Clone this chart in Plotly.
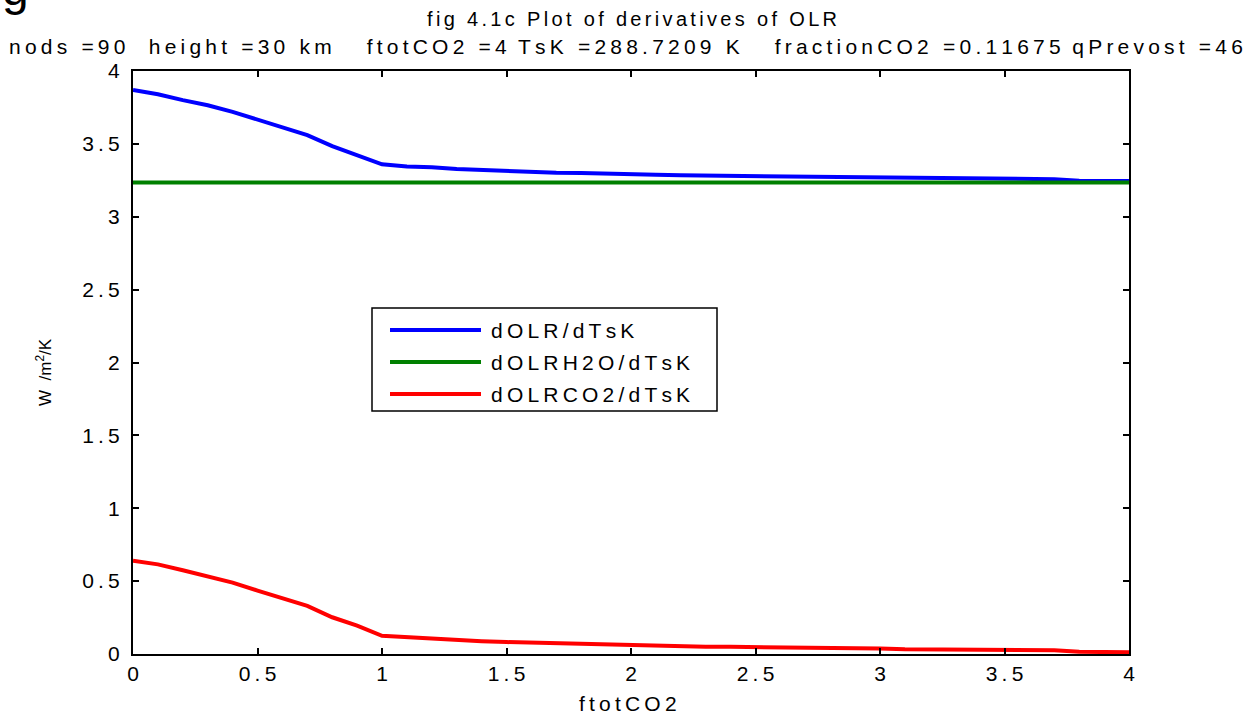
import plotly.graph_objects as go

# ftotCO2 sample points
ftot = [round(0.1 * i, 1) for i in range(41)]

# d OLR / d TsK (total)
dolr = [3.870, 3.840, 3.800, 3.765, 3.720, 3.665, 3.615, 3.560, 3.485, 3.425,
        3.360, 3.345, 3.340, 3.327, 3.320, 3.313, 3.310, 3.302, 3.300, 3.294,
        3.290, 3.288, 3.284, 3.282, 3.281, 3.280, 3.274, 3.273, 3.272, 3.271,
        3.270, 3.264, 3.262, 3.262, 3.261, 3.260, 3.259, 3.258, 3.247, 3.245,
        3.245]

# d OLR(H2O) / d TsK
dolr_h2o = [3.235] * 41

# d OLR(CO2) / d TsK
dolr_co2 = [0.640, 0.615, 0.575, 0.535, 0.490, 0.435, 0.385, 0.330, 0.252, 0.195,
            0.125, 0.115, 0.108, 0.095, 0.088, 0.082, 0.078, 0.070, 0.068, 0.062,
            0.058, 0.056, 0.052, 0.050, 0.049, 0.048, 0.042, 0.041, 0.040, 0.039,
            0.038, 0.032, 0.030, 0.030, 0.029, 0.028, 0.027, 0.026, 0.015, 0.012,
            0.012]

tick_vals_x = [0, 0.5, 1, 1.5, 2, 2.5, 3, 3.5, 4]
tick_vals_y = [0, 0.5, 1, 1.5, 2, 2.5, 3, 3.5, 4]

series = [
    ("dOLR/dTsK", dolr, "#0000ff"),
    ("dOLRH2O/dTsK", dolr_h2o, "#008000"),
    ("dOLRCO2/dTsK", dolr_co2, "#ff0000"),
]

FONT = "Liberation Sans, Arial, sans-serif"
SIX = "\u2006"   # six-per-em space
THIN = "\u2009"  # thin space


def spaced(s, gap=THIN):
    """Spread the characters out the way the old export renders them."""
    return gap.join(s)


fig = go.Figure()
for name, vals, col in series:
    fig.add_trace(go.Scatter(x=ftot, y=vals, mode="lines", name=name,
                             line=dict(color=col, width=4), showlegend=False))

axis_common = dict(
    showline=True, linecolor="black", linewidth=2, mirror="ticks",
    ticks="inside", ticklen=6, tickwidth=1.5, tickcolor="black",
    showgrid=False, zeroline=False,
    tickfont=dict(family=FONT, size=21, color="black"),
)

fig.update_xaxes(range=[0, 4], tickvals=tick_vals_x,
                 ticktext=[spaced(f"{v:g}") for v in tick_vals_x], **axis_common)
fig.update_yaxes(range=[0, 4], tickvals=tick_vals_y, ticklabelstandoff=7,
                 ticktext=[spaced(f"{v:g}") for v in tick_vals_y], **axis_common)


def px_x(p):
    return (p - 133) / 996


def px_y(p):
    return (654 - p) / 583


parts = ["nods =90", "height =30 km", "ftotCO2 =4", "TsK =288.7209 K",
         "fractionCO2 =0.11675", "qPrevost =46"]
word_gaps = [4, 6, 2, 6, 2]
subtitle = spaced(parts[0])
for gap, part in zip(word_gaps, parts[1:]):
    subtitle += " " * gap + spaced(part)

annotations = [
    dict(text=spaced("fig 4.1c Plot of derivatives of OLR", SIX),
         x=px_x(632), y=px_y(19), xref="paper", yref="paper",
         showarrow=False, xanchor="center", yanchor="middle",
         font=dict(family=FONT, size=20, color="black")),
    dict(text=subtitle,
         x=px_x(626), y=px_y(46), xref="paper", yref="paper",
         showarrow=False, xanchor="center", yanchor="middle",
         font=dict(family=FONT, size=21, color="black")),
    dict(text=spaced("ftotCO2"),
         x=px_x(628), y=px_y(703), xref="paper", yref="paper",
         showarrow=False, xanchor="center", yanchor="middle",
         font=dict(family=FONT, size=21, color="black")),
    dict(text="W  /m<sup>2</sup>/K",
         x=px_x(44), y=px_y(372), xref="paper", yref="paper",
         showarrow=False, xanchor="center", yanchor="middle", textangle=-90,
         font=dict(family=FONT, size=17, color="black")),
    dict(text="g",
         x=px_x(0), y=px_y(-12), xref="paper", yref="paper",
         showarrow=False, xanchor="left", yanchor="middle",
         font=dict(family=FONT, size=48, color="black")),
]

# legend box drawn in paper coordinates
shapes = [dict(type="rect", xref="paper", yref="paper",
               x0=px_x(372), x1=px_x(717), y0=px_y(411), y1=px_y(308),
               line=dict(color="black", width=1.5), fillcolor="white", layer="above")]
rows = [330, 362, 394]
for (name, _, col), ry in zip(series, rows):
    shapes.append(dict(type="line", xref="paper", yref="paper",
                       x0=px_x(390), x1=px_x(481), y0=px_y(ry), y1=px_y(ry),
                       line=dict(color=col, width=4), layer="above"))
    annotations.append(dict(text=spaced(name), x=px_x(489), y=px_y(ry),
                            xref="paper", yref="paper", showarrow=False,
                            xanchor="left", yanchor="middle",
                            font=dict(family=FONT, size=21, color="black")))

fig.update_layout(
    width=1255, height=715,
    margin=dict(l=133, r=126, t=71, b=61),
    paper_bgcolor="white", plot_bgcolor="white",
    annotations=annotations, shapes=shapes,
)

fig.write_html("out.html")
